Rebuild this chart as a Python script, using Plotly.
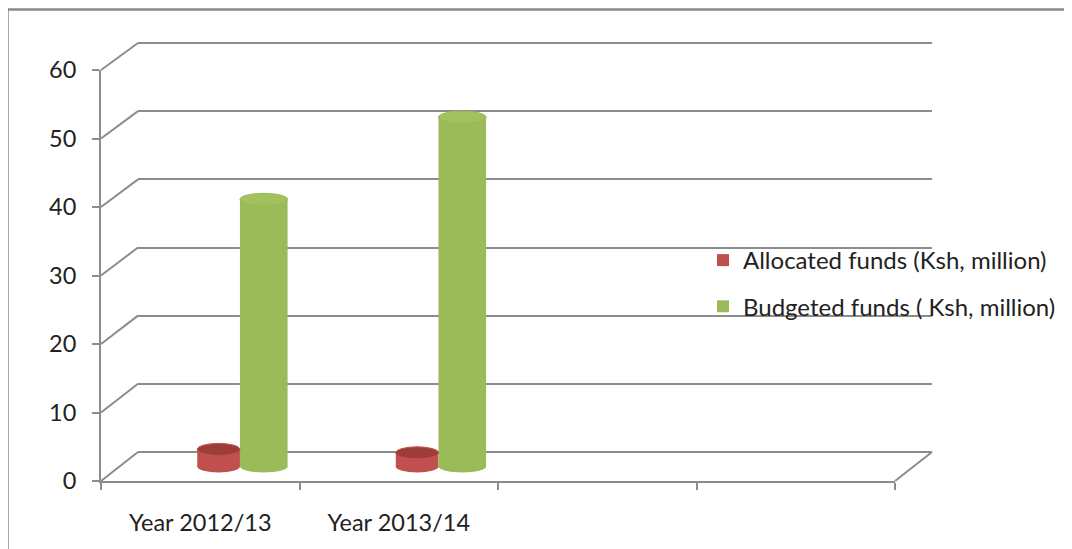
import plotly.graph_objects as go

# ---------------- data ----------------
categories = ["Year 2012/13", "Year 2013/14"]
series_names = ["Allocated funds (Ksh, million)", "Budgeted funds ( Ksh, million)"]
allocated = [2.5, 2.0]
budgeted = [39.0, 51.0]
y_ticks = [0, 10, 20, 30, 40, 50, 60]
slot_count = 4  # category slots on the floor (two are empty)

# ---------------- geometry / style ----------------
W, H = 1072, 549
OFF = 8                                    # page body offset
MT, MB = 30, 30
PLOT_H = H - MT - MB
FX0, FX1, FY0, FY1 = 101, 895, 70, 481     # front frame (target px): left, right, top(60), bottom(0)
BX0, BX1, BY0, BY1 = 138, 932, 43, 452     # back wall (target px)
YMAX = 60
GRID = "#8c8c8c"
TXT = "#222222"
FONT = "Lato"

RED, RED_TOP = "#C0504D", "#9C3D3A"
GREEN, GREEN_TOP = "#9BBB59", "#A2C25F"


def px(x):
    return (x - OFF) / W


def py(y):
    return 1 - ((y - OFF) - MT) / PLOT_H


unit = (FY1 - FY0) / YMAX                 # px per data unit (front)
base = ((FY1 - BY1) / 2) / unit           # bars stand at mid depth
ell_h = 12 / unit                         # ellipse height in data units

bar_specs = [
    (series_names[0], allocated, RED, RED_TOP, -0.015, 0.215),
    (series_names[1], budgeted, GREEN, GREEN_TOP, 0.2, 0.24),
]

fig = go.Figure()

# invisible trace anchoring the back-wall subplot
fig.add_trace(go.Scatter(x=[], y=[], xaxis="x", yaxis="y", showlegend=False, hoverinfo="skip"))

xpos = list(range(len(categories)))
shapes = []
for i, (name, vals, col, topcol, off, wid) in enumerate(bar_specs):
    fig.add_trace(go.Bar(
        x=xpos, y=vals, base=[base] * len(vals), offset=off, width=wid,
        name=name, marker=dict(color=col, line=dict(width=0)),
        xaxis="x2", yaxis="y2", legendgroup=f"g{i}",
    ))
    for xi, v in zip(xpos, vals):
        x0, x1 = xi + off, xi + off + wid
        shapes.append(dict(type="circle", xref="x2", yref="y2", layer="below",
                           x0=x0, x1=x1, y0=base - ell_h / 2, y1=base + ell_h / 2,
                           fillcolor=col, line=dict(width=0)))
        shapes.append(dict(type="circle", xref="x2", yref="y2", layer="above",
                           x0=x0, x1=x1, y0=base + v - ell_h / 2, y1=base + v + ell_h / 2,
                           fillcolor=topcol, line=dict(color=col, width=1)))

# depth diagonals from front ticks to back gridlines
for v in y_ticks:
    yf = FY1 - v / YMAX * (FY1 - FY0)
    yb = BY1 - v / YMAX * (BY1 - BY0)
    shapes.append(dict(type="line", xref="paper", yref="paper", layer="below",
                       x0=px(FX0), y0=py(yf), x1=px(BX0), y1=py(yb),
                       line=dict(color=GRID, width=2)))
shapes.append(dict(type="line", xref="paper", yref="paper", layer="below",
                   x0=px(FX1), y0=py(FY1), x1=px(BX1), y1=py(BY1),
                   line=dict(color=GRID, width=2)))
# outer chart border
shapes.append(dict(type="path", xref="paper", yref="paper", layer="below",
                   path=f"M {px(7.5)},{py(560)} L {px(7.5)},{py(9.5)} L {px(1080)},{py(9.5)}",
                   line=dict(color="#8a8a8a", width=2.5)))

bounds = [-0.5 + k for k in range(slot_count + 1)]
eps = 0.4                                  # keep end gridlines off the subplot edges
bunit = (BY1 - BY0) / YMAX

fig.update_layout(
    width=W, height=H, autosize=False,
    margin=dict(l=0, r=0, t=MT, b=MB, autoexpand=False),
    paper_bgcolor="white", plot_bgcolor="rgba(0,0,0,0)",
    font=dict(family=FONT, color=TXT, size=23.5),
    barmode="overlay",
    showlegend=True,
    xaxis=dict(domain=[px(BX0), px(BX1)], range=[-0.5, slot_count - 0.5], anchor="y",
               visible=False, fixedrange=True),
    yaxis=dict(domain=[py(BY1 + eps * bunit), py(BY0 - eps * bunit)],
               range=[-eps, YMAX + eps], anchor="x",
               tickvals=y_ticks, showticklabels=False, ticks="", showline=False,
               showgrid=True, gridcolor=GRID, gridwidth=2, zeroline=False, fixedrange=True),
    xaxis2=dict(domain=[px(FX0), px(FX1)], range=[-0.5, slot_count - 0.5], anchor="y2",
                tickvals=xpos, ticktext=categories, ticks="", showgrid=False, zeroline=False,
                showline=True, linecolor=GRID, linewidth=2,
                tickfont=dict(size=23.5, color=TXT, family=FONT), ticklabelstandoff=20,
                minor=dict(tickmode="array", tickvals=bounds, ticks="outside", ticklen=7,
                           tickcolor=GRID, tickwidth=2, showgrid=False),
                fixedrange=True),
    yaxis2=dict(domain=[py(FY1), py(FY0)], range=[0, YMAX], anchor="x2",
                tickvals=y_ticks, ticks="outside", ticklen=7, tickcolor=GRID, tickwidth=2,
                showline=True, linecolor=GRID, linewidth=2, showgrid=False, zeroline=False,
                tickfont=dict(size=23.5, color=TXT, family=FONT), ticklabelstandoff=11,
                fixedrange=True),
    legend=dict(x=px(703), y=py(238), xanchor="left", yanchor="top",
                bgcolor="rgba(0,0,0,0)", font=dict(size=24, color=TXT, family=FONT),
                traceorder="grouped", tracegroupgap=12, itemwidth=30),
    shapes=shapes,
)

fig.write_html("out.html")
